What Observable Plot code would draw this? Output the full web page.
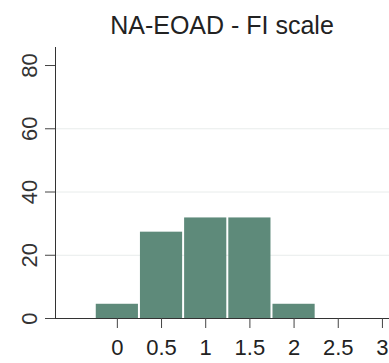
<!DOCTYPE html>
<html>
<head>
<meta charset="utf-8">
<script src="https://cdn.jsdelivr.net/npm/d3@7"></script>
<script src="https://cdn.jsdelivr.net/npm/@observablehq/plot@0.6"></script>
<style>
  html, body { margin: 0; padding: 0; background: #fff; }
  #title { width: 334px; padding-left: 55px; height: 44px; line-height: 50px; text-align: center;
           font-family: "Liberation Sans", Arial, sans-serif; font-size: 25px; color: #222; white-space: nowrap; }
</style>
</head>
<body>
<div id="title">NA-EOAD - FI scale</div>
<div id="chart"></div>
<script>
const binCenters = [0, 0.5, 1, 1.5, 2];
const percents = [4.5, 27.3, 31.8, 31.8, 4.5];
const xTicks = [0, 0.5, 1, 1.5, 2, 2.5, 3];
const yTicks = [0, 20, 40, 60, 80];
const gridTicks = [20, 40, 60];
const binWidth = 0.5;

const bars = binCenters.map((c, i) => ({x1: c - binWidth / 2, x2: c + binWidth / 2, y: percents[i]}));
const font = "Liberation Sans, Arial, sans-serif";

const chart = Plot.plot({
  width: 389,
  height: 319,
  marginLeft: 55,
  marginRight: 0,
  marginTop: 3,
  marginBottom: 45,
  style: {fontFamily: font, background: "#fff"},
  x: {domain: [-0.70, 3.08], axis: null},
  y: {domain: [0, 85.7], axis: null},
  marks: [
    Plot.ruleY(gridTicks, {stroke: "#e8eceb", strokeWidth: 1}),
    Plot.rectY(bars, {x1: "x1", x2: "x2", y: "y", fill: "#5e8a7a", insetLeft: 1, insetRight: 1}),
    Plot.ruleY([0], {stroke: "#333", strokeWidth: 1}),
    Plot.ruleX([-0.70], {y1: 0, y2: 85.7, stroke: "#333", strokeWidth: 1}),
    Plot.axisX({ticks: xTicks, tickSize: 10, tickPadding: 11, fontSize: 22, tickFormat: d => String(d), stroke: "#444", color: "#222", label: null}),
    Plot.axisY({ticks: yTicks, tickSize: 10, tickFormat: () => "", stroke: "#444", label: null}),
    Plot.text(yTicks, {x: -0.70, y: d => d, text: d => String(d), rotate: -90, dx: -26, fontSize: 22, textAnchor: "middle", lineAnchor: "middle", fill: "#333"})
  ]
});
document.getElementById("chart").appendChild(chart);
</script>
</body>
</html>
